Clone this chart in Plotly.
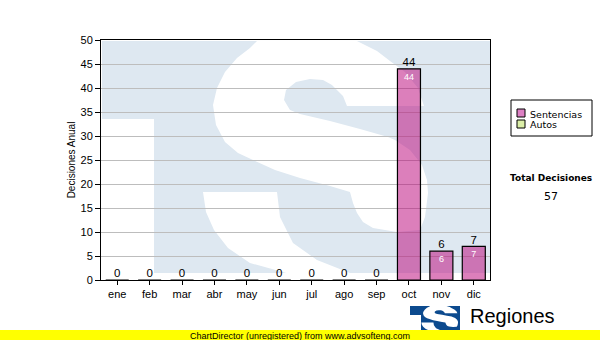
import plotly.graph_objects as go

# ---------------- data ----------------
months = ["ene", "feb", "mar", "abr", "may", "jun", "jul", "ago", "sep", "oct", "nov", "dic"]
sentencias = [0, 0, 0, 0, 0, 0, 0, 0, 0, 44, 6, 7]
autos = [0, 0, 0, 0, 0, 0, 0, 0, 0, 0, 0, 0]
series_names = ["Sentencias", "Autos"]
y_title = "Decisiones Anual"
total_title = "Total Decisiones"
footer_text = "ChartDirector (unregistered) from www.advsofteng.com"
logo_text = "Regiones"

totals = [s + a for s, a in zip(sentencias, autos)]
grand_total = sum(totals)

# ---------------- layout geometry (pixels) ----------------
W, H = 600, 340
L, R, T, B = 101, 110, 40, 60
PW, PH = W - L - R, H - T - B


def px(X):
    return (X - L) / PW


def py(Y):
    return (H - B - Y) / PH


def path_from(points, sx=1.0, sy=1.0, ox=0.0, oy=0.0):
    pts = [(px(ox + sx * x), py(oy + sy * y)) for x, y in points]
    d = "M %.5f,%.5f " % pts[0]
    d += " ".join("L %.5f,%.5f" % p for p in pts[1:])
    return d + " Z"


PINK = "rgba(185,0,120,0.5)"
PINK_SOLID = "#dd80c4"
GREEN = "#dcefa8"
WM_BLUE = "rgb(222,232,241)"

# watermark S outline (decorative background, pixel coords)
s_main = [
    (347, 106), (424, 106), (418, 88), (405, 72), (390, 61), (377, 51), (357, 41),
    (257, 41), (250, 48), (237, 58), (225, 72), (217, 88), (213, 105), (216, 125),
    (225, 142), (238, 153), (253, 160), (275, 170), (300, 178), (330, 186), (350, 192),
    (353, 203), (357, 213), (363, 222), (373, 228), (397, 232), (420, 230), (425, 217),
    (428, 193), (427, 180), (422, 165), (410, 150), (395, 140), (388, 137), (360, 129),
    (330, 121), (300, 114), (290, 110), (284, 100), (286, 90), (296, 82), (310, 79),
    (323, 80), (332, 85), (343, 96),
]
s_tail = [
    (203, 192), (277, 192), (280, 217), (293, 243), (317, 260), (350, 273), (397, 279),
    (397, 280), (340, 280), (290, 274), (250, 263), (228, 248), (214, 230), (206, 212),
]

shapes = []
# watermark
shapes.append(dict(type="rect", xref="paper", yref="paper", x0=px(102), x1=px(490), y0=py(273), y1=py(41),
                   fillcolor=WM_BLUE, line=dict(width=0), layer="below"))
shapes.append(dict(type="rect", xref="paper", yref="paper", x0=px(101), x1=px(154), y0=py(273), y1=py(119),
                   fillcolor="white", line=dict(width=0), layer="below"))
shapes.append(dict(type="path", xref="paper", yref="paper", path=path_from(s_main),
                   fillcolor="white", line=dict(width=0), layer="below"))
shapes.append(dict(type="path", xref="paper", yref="paper", path=path_from(s_tail),
                   fillcolor="white", line=dict(width=0), layer="below"))

# legend box
shapes.append(dict(type="rect", xref="paper", yref="paper", x0=px(511), x1=px(592), y0=py(136), y1=py(100),
                   fillcolor="white", line=dict(color="black", width=1)))
shapes.append(dict(type="rect", xref="paper", yref="paper", x0=px(517), x1=px(525), y0=py(117), y1=py(109),
                   fillcolor=PINK_SOLID, line=dict(color="black", width=1)))
shapes.append(dict(type="rect", xref="paper", yref="paper", x0=px(517), x1=px(525), y0=py(128), y1=py(120),
                   fillcolor=GREEN, line=dict(color="black", width=1)))

# logo
LOGO_BLUE = "#0c4a8e"
shapes.append(dict(type="rect", xref="paper", yref="paper", x0=px(410), x1=px(460), y0=py(330), y1=py(306),
                   fillcolor=LOGO_BLUE, line=dict(width=0)))
shapes.append(dict(type="rect", xref="paper", yref="paper", x0=px(410), x1=px(421), y0=py(330), y1=py(315),
                   fillcolor="white", line=dict(width=0)))
sx, sy = 0.163, 0.11
ox, oy = 423 - 213 * sx, 306 - 41 * sy
shapes.append(dict(type="path", xref="paper", yref="paper", path=path_from(s_main, sx, sy, ox, oy),
                   fillcolor="white", line=dict(width=0)))
shapes.append(dict(type="path", xref="paper", yref="paper", path=path_from(s_tail, sx, sy, ox, oy),
                   fillcolor="white", line=dict(width=0)))
# footer strip
shapes.append(dict(type="rect", xref="paper", yref="paper", x0=px(0), x1=px(600), y0=py(340), y1=py(330),
                   fillcolor="#ffff00", line=dict(width=0)))

annotations = [
    dict(x=px(528), y=py(114), xref="paper", yref="paper", text=series_names[0], showarrow=False,
         xanchor="left", yanchor="middle", font=dict(family="DejaVu Sans", size=9.5, color="black")),
    dict(x=px(528), y=py(125), xref="paper", yref="paper", text=series_names[1], showarrow=False,
         xanchor="left", yanchor="middle", font=dict(family="DejaVu Sans", size=9.5, color="black")),
    dict(x=px(551), y=py(178), xref="paper", yref="paper", text="<b>%s</b>" % total_title, showarrow=False,
         xanchor="center", yanchor="middle", font=dict(family="DejaVu Sans", size=9, color="black")),
    dict(x=px(551), y=py(196), xref="paper", yref="paper", text=str(grand_total), showarrow=False,
         xanchor="center", yanchor="middle", font=dict(family="DejaVu Sans", size=11, color="black")),
    dict(x=px(468), y=py(316), xref="paper", yref="paper", text=logo_text, showarrow=False,
         xanchor="left", yanchor="middle", font=dict(family="Liberation Sans", size=20, color="black")),
    dict(x=px(300), y=py(335.5), xref="paper", yref="paper", text=footer_text, showarrow=False,
         xanchor="center", yanchor="middle", font=dict(family="Liberation Sans", size=9, color="black")),
]

fig = go.Figure()
fig.add_trace(go.Bar(
    x=months, y=sentencias, name=series_names[0], width=0.71,
    marker=dict(color=PINK, line=dict(color="black", width=1.2)),
    text=[str(v) if v else "" for v in sentencias], textposition="inside", insidetextanchor="end",
    textangle=0, textfont=dict(family="Liberation Sans", size=9, color="white"),
    showlegend=False, hoverinfo="skip",
))
fig.add_trace(go.Scatter(
    x=months, y=totals, mode="text", text=[str(v) for v in totals], textposition="top center",
    textfont=dict(family="Liberation Sans", size=11.5, color="black"), cliponaxis=False,
    showlegend=False, hoverinfo="skip",
))

fig.update_layout(
    width=W, height=H, margin=dict(l=L, r=R, t=T, b=B, pad=0),
    paper_bgcolor="white", plot_bgcolor="rgba(0,0,0,0)",
    shapes=shapes, annotations=annotations, showlegend=False,
    font=dict(family="Liberation Sans", size=11, color="black"),
    xaxis=dict(range=[-0.5, 11.5], showline=True, linecolor="black", linewidth=1, mirror=True,
               ticks="outside", ticklen=4, tickcolor="black", showgrid=False, zeroline=False,
               tickfont=dict(family="Liberation Sans", size=11, color="black")),
    yaxis=dict(range=[0, 50], dtick=5, showline=True, linecolor="black", linewidth=1, mirror=True,
               ticks="outside", ticklen=5, tickcolor="black", showgrid=True, gridcolor="#bdbdbd",
               gridwidth=1, zeroline=False,
               tickfont=dict(family="Liberation Sans", size=11, color="black"),
               title=dict(text=y_title, standoff=3, font=dict(family="Liberation Sans", size=10, color="black"))),
    bargap=0.29,
)

fig.write_html("out.html", config={"displayModeBar": False})
